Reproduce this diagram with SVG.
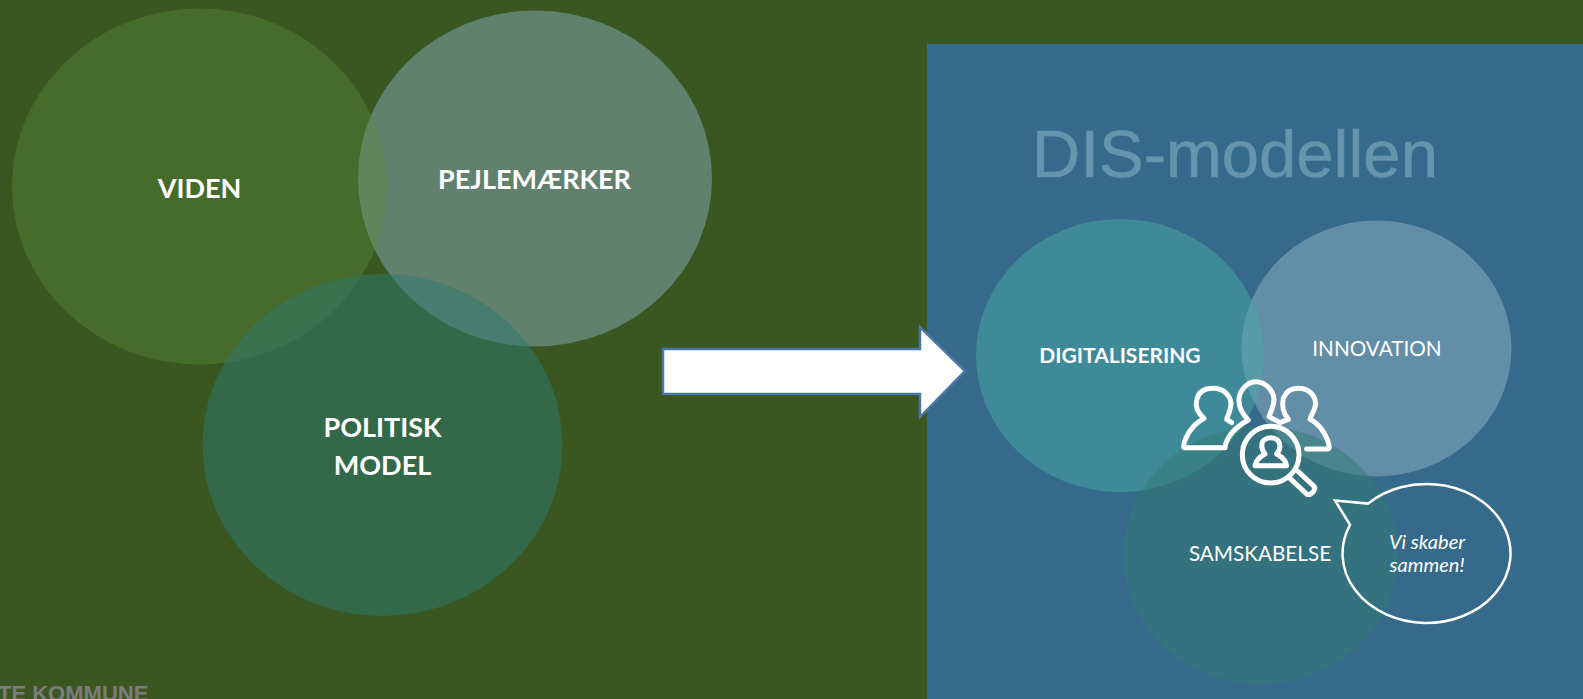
<svg xmlns="http://www.w3.org/2000/svg" width="1583" height="699" viewBox="0 0 1583 699">
<style>
.lbl{font-family:"Lato","Open Sans","Liberation Sans",sans-serif;fill:#fff;text-anchor:middle}
.b{font-weight:700;font-size:27px}
.s{font-size:20.700px}
.icon{fill:none;stroke:#fff;stroke-width:15;stroke-linejoin:round;stroke-linecap:round}
</style>
<rect id="background" width="1583" height="699" fill="#3a5722"/>
<rect id="panel" x="927" y="44" width="656" height="655" fill="#356a8a"/>
<text id="footer" x="-2" y="701" font-family="'Liberation Sans',Arial,sans-serif" font-weight="700" font-size="22" fill="#7c7c7c">TE KOMMUNE</text>
<g id="pejlemaerker"><ellipse cx="535" cy="178.500" rx="177" ry="168" fill="#a1c6eb" fill-opacity=".38"/><text class="lbl b" x="534.500" y="189">PEJLEMÆRKER</text></g>
<g id="viden"><ellipse cx="199.5" cy="186.500" rx="187.5" ry="178" fill="#608c39" fill-opacity=".37"/><text class="lbl b" x="199.500" y="198">VIDEN</text></g>
<g id="politisk"><ellipse cx="382.500" cy="445" rx="180" ry="171" fill="#2b7a70" fill-opacity=".5"/><text class="lbl b" x="382.500" y="437">POLITISK</text><text class="lbl b" x="382.500" y="475">MODEL</text></g>
<g id="connectors"><path d="M663 349H920V327L965 371 920 417V394H663Z" fill="#fff" stroke="#4a76a8" stroke-width="2.500"/></g>
<text id="title" x="1032" y="177" font-family="'Liberation Sans',Arial,sans-serif" font-size="67" fill="#6595ad" stroke="#6595ad" stroke-width=".6">DIS-modellen</text>
<g id="innovation"><ellipse cx="1376.500" cy="348.500" rx="135" ry="128" fill="#b6d1e0" fill-opacity=".35"/><text class="lbl s" x="1377" y="355.500">INNOVATION</text></g>
<g id="digitalisering"><ellipse cx="1120" cy="355.500" rx="144" ry="136.500" fill="#49aaa8" fill-opacity=".5"/><text class="lbl" x="1120" y="362.500" font-weight="700" font-size="21">DIGITALISERING</text></g>
<g id="samskabelse"><ellipse cx="1260.500" cy="555.500" rx="137.500" ry="129" fill="#317a72" fill-opacity=".5"/><text class="lbl s" x="1260" y="561">SAMSKABELSE</text></g>
<g id="people-icon" transform="translate(1170 370) scale(.3333)">
<path class="icon" d="M165 233H42C38 225 50 190 70 170 80 158 95 150 102 145 85 130 75 110 80 90 85 65 105 55 130 55 160 55 180 75 183 100 183 120 172 140 170 148L185 158"/>
<path class="icon" d="M165 230C170 205 190 175 235 150 215 130 205 110 207 85 212 55 235 35 258 35 285 35 310 60 312 88 312 110 300 130 297 140L325 155"/>
<path class="icon" d="M330 158L355 148C340 130 335 105 340 85 348 65 365 55 385 55 415 55 435 75 437 100 437 120 422 135 420 148 445 160 470 190 478 230Q478 237 470 237H410"/>
<circle class="icon" cx="302" cy="254" r="85"/>
<path class="icon" d="M255 287C258 270 270 260 285 252 272 235 272 215 285 208Q302 198 320 208C333 218 333 238 320 252 335 260 348 272 350 287Z"/>
<path class="icon" d="M360 325L410 372Q420 378 432 362 438 352 428 345L385 305"/>
</g>
<g id="speech-bubble"><path d="M1335 500.500L1368 503.600A84 69.500 0 1 1 1350 524.800Z" fill="none" stroke="#fff" stroke-width="2.500"/>
<text class="lbl" x="1427" y="549" font-style="italic" font-size="20">Vi skaber</text><text class="lbl" x="1427" y="572" font-style="italic" font-size="20">sammen!</text></g>
</svg>
